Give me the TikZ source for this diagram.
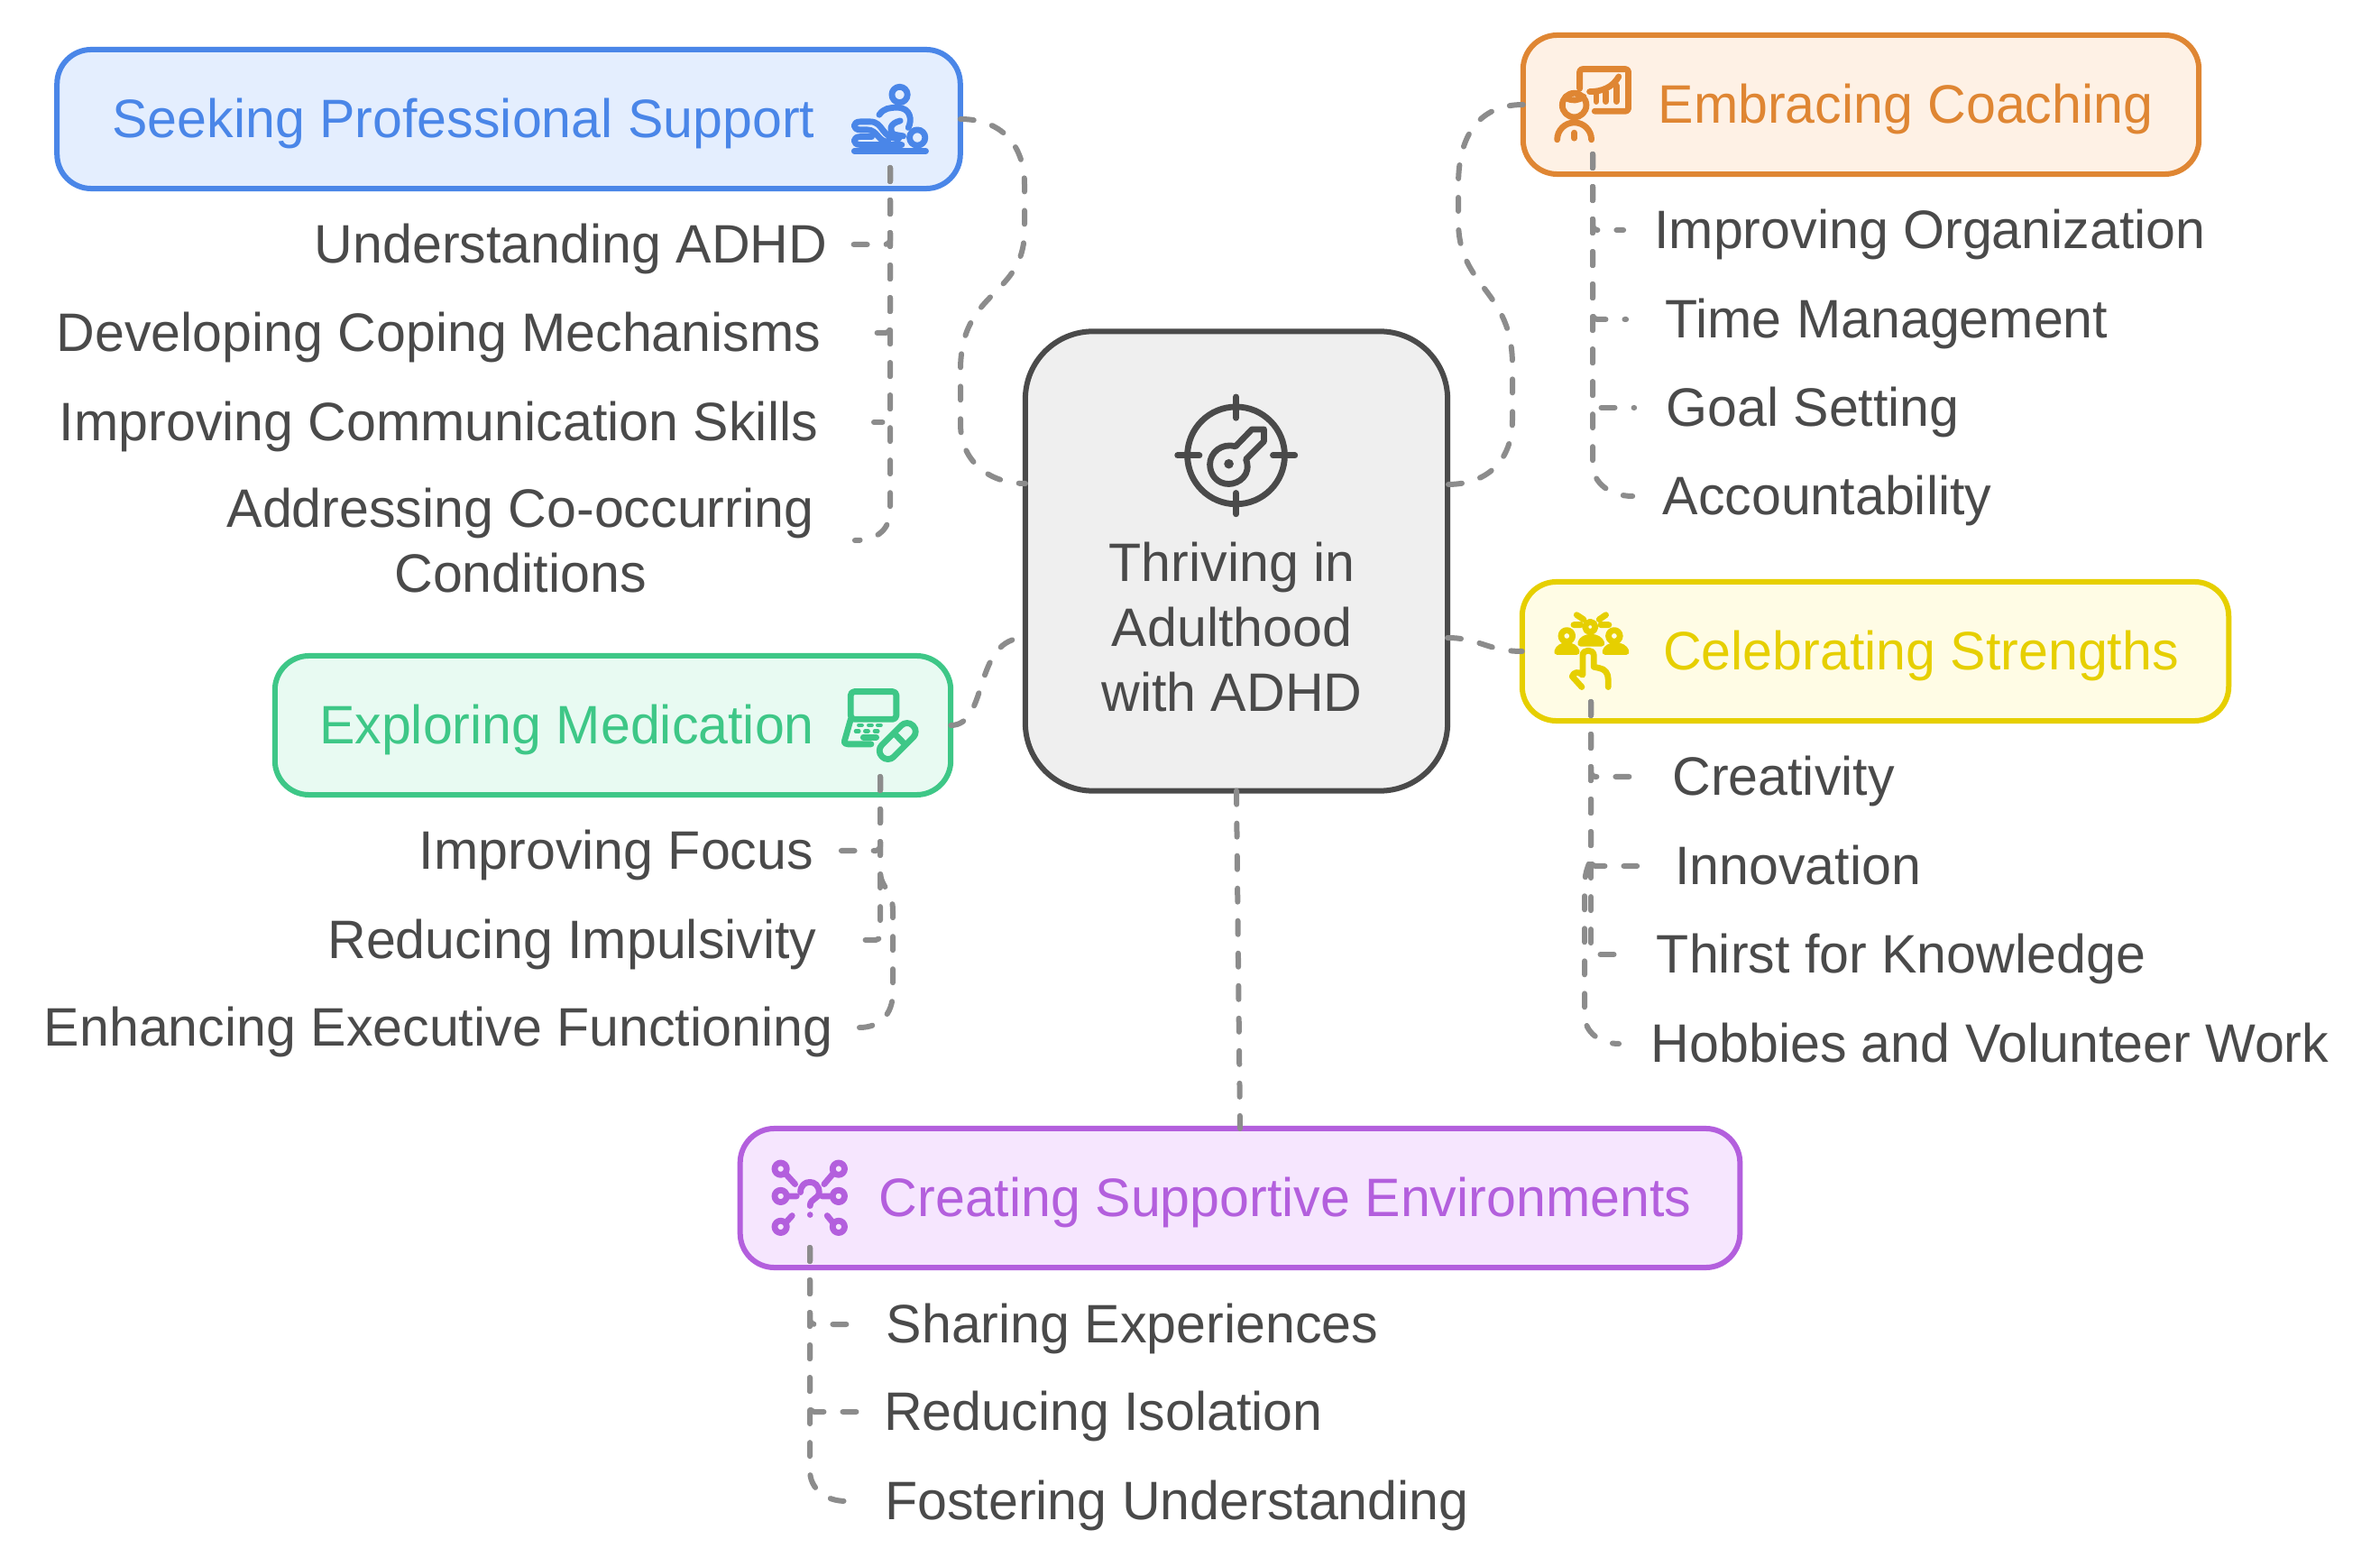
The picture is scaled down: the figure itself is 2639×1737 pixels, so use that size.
\documentclass[tikz,border=0pt]{standalone}
\usepackage{xcolor}
\usepackage{fontspec}
\setmainfont[FakeStretch=0.985]{Liberation Sans}
\usepackage{tikz}
\usetikzlibrary{calc}
\definecolor{MInk}{HTML}{4A4A4A}
\definecolor{MLink}{HTML}{8C8C8C}
\definecolor{MHub}{HTML}{EFEFEF}
\definecolor{MBlue}{HTML}{4A86E8}
\definecolor{MBlueFill}{HTML}{E4EEFE}
\definecolor{MOrange}{HTML}{DF8633}
\definecolor{MOrangeFill}{HTML}{FEF1E5}
\definecolor{MYellow}{HTML}{E6CF00}
\definecolor{MYellowFill}{HTML}{FFFCE5}
\definecolor{MGreen}{HTML}{3EC787}
\definecolor{MGreenFill}{HTML}{E8FAF2}
\definecolor{MPurple}{HTML}{B35FDD}
\definecolor{MPurpleFill}{HTML}{F6E6FE}

\begin{document}
\begin{tikzpicture}[x=0.01cm, y=-0.01cm,
  txt/.style={font=\fontsize{17.07}{20.35}\selectfont, inner sep=0pt},
  card/.style={draw, line width=0.06cm, rounded corners=0.38cm, outer sep=0pt, minimum height=1.54cm},
  title/.style={txt, text height=0.55cm, text depth=0.14cm},
  kid/.style={txt, text=MInk, text height=0.55cm, text depth=0.14cm, align=center},
  link/.style={draw=MLink, line width=0.06cm, line cap=round, dash pattern=on 0.15cm off 0.21cm},
  icon/.style={line width=0.068cm, line cap=round, line join=round},
  zoomed/.style={x=0.00333cm, y=-0.00333cm}]
\useasboundingbox (0,0) rectangle (2639,1737);

% central box
\node[card, draw=MInk, fill=MHub, rounded corners=0.75cm, minimum width=4.68cm, minimum height=5.09cm] (hub) at (1371,622) {};
\node[txt, text=MInk, align=center] (hubtext) at (1366,695) {Thriving in\\Adulthood\\with ADHD};
\coordinate (hubwa) at (1137,536);
\coordinate (hubwb) at (1137,707);
\coordinate (hubea) at (1605,537);
\coordinate (hubeb) at (1605,707);

% cards
\node[card, draw=MBlue, fill=MBlueFill, minimum width=10.01cm] (seek) at (564,132) {};
\node[title, text=MBlue] (seektext) at (514,132) {Seeking Professional Support};
\node[card, draw=MOrange, fill=MOrangeFill, minimum width=7.49cm] (embrace) at (2063.5,116) {};
\node[title, text=MOrange] (embracetext) at (2113,116) {Embracing Coaching};
\node[card, draw=MYellow, fill=MYellowFill, minimum width=7.83cm] (celeb) at (2079.5,722) {};
\node[title, text=MYellow] (celebtext) at (2130,722) {Celebrating Strengths};
\node[card, draw=MGreen, fill=MGreenFill, minimum width=7.49cm] (explore) at (679.5,804) {};
\node[title, text=MGreen] (exploretext) at (628.5,804) {Exploring Medication};
\node[card, draw=MPurple, fill=MPurpleFill, minimum width=11.08cm] (create) at (1375,1328) {};
\node[title, text=MPurple] (createtext) at (1425,1328) {Creating Supportive Environments};

% hub icon
\begin{scope}[shift={(1290,430)}, zoomed, draw=MInk, icon]
\draw (242,225) circle (162);
\draw (242,30) -- (242,100) (242,350) -- (242,420) (47,225) -- (120,225) (365,225) -- (438,225);
\draw (240,195) -- (295,138) -- (335,138) -- (335,178) -- (275,238) .. controls (295,290) and (250,320) .. (218,320) .. controls (180,320) and (155,290) .. (155,255) .. controls (155,215) and (195,182) .. cycle;
\fill[MInk] (218,253) circle (16);
\end{scope}

% seek icon
\begin{scope}[shift={(930,70)}, zoomed, draw=MBlue, icon]
\draw (203,105) circle (26);
\draw (262,248) circle (26);
\draw (52,293) -- (290,293);
\draw (135,172) .. controls (150,150) and (170,148) .. (195,148) .. controls (240,148) and (245,190) .. (232,215);
\draw (205,192) .. controls (170,200) and (165,225) .. (185,238) -- (215,243);
\draw (110,245) -- (72,245) .. controls (45,245) and (45,272) .. (72,272) -- (210,272);
\draw (165,262) .. controls (130,262) and (130,222) .. (95,222) -- (72,222) .. controls (45,222) and (45,195) .. (72,195) -- (105,195) .. controls (150,195) and (140,250) .. (200,252);
\end{scope}

% embrace icon
\begin{scope}[shift={(1710,60)}, zoomed, draw=MOrange, icon]
\draw[rounded corners=0.03cm] (125,115) -- (125,50) -- (287,50) -- (287,190) -- (175,190);
\draw (158,125) .. controls (200,125) and (235,110) .. (255,75);
\draw (180,130) -- (180,158) (212,125) -- (212,158) (247,105) -- (247,158);
\draw (107,170) circle (40);
\draw (78,145) .. controls (100,158) and (120,155) .. (138,142);
\draw (50,285) arc (180:360:57);
\draw (107,262) -- (107,280);
\end{scope}

% celebrate icon
\begin{scope}[shift={(1710,670)}, zoomed, draw=MYellow, icon]
\draw (160,75) circle (17);
\draw (82,105) circle (19);
\draw (240,105) circle (19);
\draw (128,130) .. controls (135,102) and (190,102) .. (198,130) -- cycle;
\draw (50,158) .. controls (57,130) and (108,130) .. (115,158) -- cycle;
\draw (210,158) .. controls (217,130) and (272,130) .. (280,158) -- cycle;
\draw (105,68) -- (128,68) (195,68) -- (222,68) (115,35) -- (138,50) (190,50) -- (212,35);
\draw (132,275) -- (100,240) .. controls (105,225) and (120,222) .. (135,235) -- (135,170) .. controls (135,148) and (172,148) .. (172,170) -- (172,208) -- (190,212) .. controls (210,215) and (220,230) .. (220,250) -- (220,275);
\end{scope}

% explore icon
\begin{scope}[shift={(920,740)}, zoomed, draw=MGreen, icon]
\draw[rounded corners=0.04cm] (70,172) -- (70,80) -- (222,80) -- (222,172) -- cycle;
\draw (70,172) -- (50,242) .. controls (47,252) and (52,255) .. (60,255) -- (138,255);
\draw (112,232) -- (155,232);
\draw[line width=0.045cm] (97,192) -- (107,192) (130,192) -- (140,192) (160,192) -- (170,192) (87,212) -- (97,212) (118,212) -- (128,212) (150,212) -- (160,212);
\draw[rounded corners=0.09cm, rotate around={45:(226,245)}] (153,217) rectangle (299,273);
\draw (218,222) -- (250,255);
\end{scope}

% create icon
\begin{scope}[shift={(840,1270)}, zoomed, draw=MPurple, icon]
\foreach \ringx/\ringy in {77/77,270/77,77/168,270/168,77/270,270/270}{
  \draw (\ringx,\ringy) circle (20);
}
\draw (95,95) -- (125,128) (250,95) -- (222,128) (105,168) -- (130,168) (240,168) -- (215,168) (95,255) -- (115,233) (250,255) -- (232,233);
\draw (143,155) .. controls (143,110) and (205,110) .. (205,155) .. controls (205,178) and (175,175) .. (175,200);
\fill[MPurple] (175,230) circle (10);
\end{scope}

% sub items
\node[kid, minimum width=6.20cm] (seeka) at (633,271) {Understanding ADHD};
\node[kid, minimum width=9.35cm] (seekb) at (486.5,369) {Developing Coping Mechanisms};
\node[kid, minimum width=9.63cm] (seekc) at (486.5,468) {Improving Communication Skills};
\node[txt, text=MInk, align=center, minimum width=7.40cm] (seekd) at (577,599) {Addressing Co-occurring\\Conditions};
\node[kid, minimum width=6.78cm] (embracea) at (2140,255) {Improving Organization};
\node[kid, minimum width=5.76cm] (embraceb) at (2092,354) {Time Management};
\node[kid, minimum width=3.94cm] (embracec) at (2010,452) {Goal Setting};
\node[kid, minimum width=4.30cm] (embraced) at (2026,550) {Accountability};
\node[kid, minimum width=3.39cm] (celeba) at (1977.5,861) {Creativity};
\node[kid, minimum width=3.55cm] (celebb) at (1993.5,960) {Innovation};
\node[kid, minimum width=6.32cm] (celebc) at (2108,1058) {Thirst for Knowledge};
\node[kid, minimum width=8.21cm] (celebd) at (2206.5,1157) {Hobbies and Volunteer Work};
\node[kid, minimum width=4.97cm] (explorea) at (683.5,943) {Improving Focus};
\node[kid, minimum width=6.09cm] (exploreb) at (634.5,1042) {Reducing Impulsivity};
\node[kid, minimum width=9.32cm] (explorec) at (486,1139) {Enhancing Executive Functioning};
\node[kid, minimum width=6.29cm] (createa) at (1255.5,1468) {Sharing Experiences};
\node[kid, minimum width=5.45cm] (createb) at (1223.5,1565) {Reducing Isolation};
\node[kid, minimum width=7.32cm] (createc) at (1305,1664) {Fostering Understanding};

% hub links
\draw[link] (seek.east) .. controls (1110,132) and (1136,160) .. (1136,205) -- (1136,255) .. controls (1136,330) and (1065,320) .. (1065,410) -- (1065,470) .. controls (1065,510) and (1095,536) .. (hubwa);
\draw[link] (embrace.west) .. controls (1640,116) and (1617,150) .. (1617,205) -- (1617,245) .. controls (1617,320) and (1677,320) .. (1677,405) -- (1677,465) .. controls (1677,510) and (1650,537) .. (hubea);
\draw[link] (hubeb) .. controls (1640,707) and (1650,722) .. (celeb.west);
\draw[link] (explore.east) .. controls (1097,804) and (1078,707) .. (hubwb);
\draw[link] (hub.south) -- (create.north);

% item links
\coordinate (seekport) at (987,186);
\coordinate (embraceport) at (1766,171);
\coordinate (celebport) at (1764,778);
\coordinate (exploreport) at (976,861);
\coordinate (createport) at (898,1383);
\draw[link, rounded corners=0.05cm] (seekport) |- (seeka.east);
\draw[link, rounded corners=0.05cm] (seekport) |- (seekb.east);
\draw[link, rounded corners=0.05cm] (seekport) |- (seekc.east);
\draw[link] (seekport) -- (987,565) .. controls (987,585) and (975,599) .. (seekd.east);
\draw[link, rounded corners=0.05cm] (embraceport) |- (embracea.west);
\draw[link, rounded corners=0.05cm] (embraceport) |- (embraceb.west);
\draw[link, rounded corners=0.05cm] (embraceport) |- (embracec.west);
\draw[link] (embraceport) -- (1766,515) .. controls (1766,535) and (1785,550) .. (embraced.west);
\draw[link, rounded corners=0.05cm] (celebport) |- (celeba.west);
\draw[link, rounded corners=0.05cm] (celebport) |- (celebb.west);
\draw[link, rounded corners=0.05cm] (celebport) |- (celebc.west);
\draw[link] (celebport) -- (1764,945) .. controls (1764,960) and (1757,960) .. (1757,985) -- (1757,1125) .. controls (1757,1145) and (1775,1157) .. (celebd.west);
\draw[link, rounded corners=0.05cm] (exploreport) |- (explorea.east);
\draw[link, rounded corners=0.05cm] (exploreport) |- (exploreb.east);
\draw[link] (exploreport) -- (976,965) .. controls (976,985) and (990,985) .. (990,1010) -- (990,1100) .. controls (990,1125) and (975,1139) .. (explorec.east);
\draw[link, rounded corners=0.05cm] (createport) |- (createa.west);
\draw[link, rounded corners=0.05cm] (createport) |- (createb.west);
\draw[link] (createport) -- (898,1630) .. controls (898,1650) and (915,1664) .. (createc.west);
\end{tikzpicture}
\end{document}
